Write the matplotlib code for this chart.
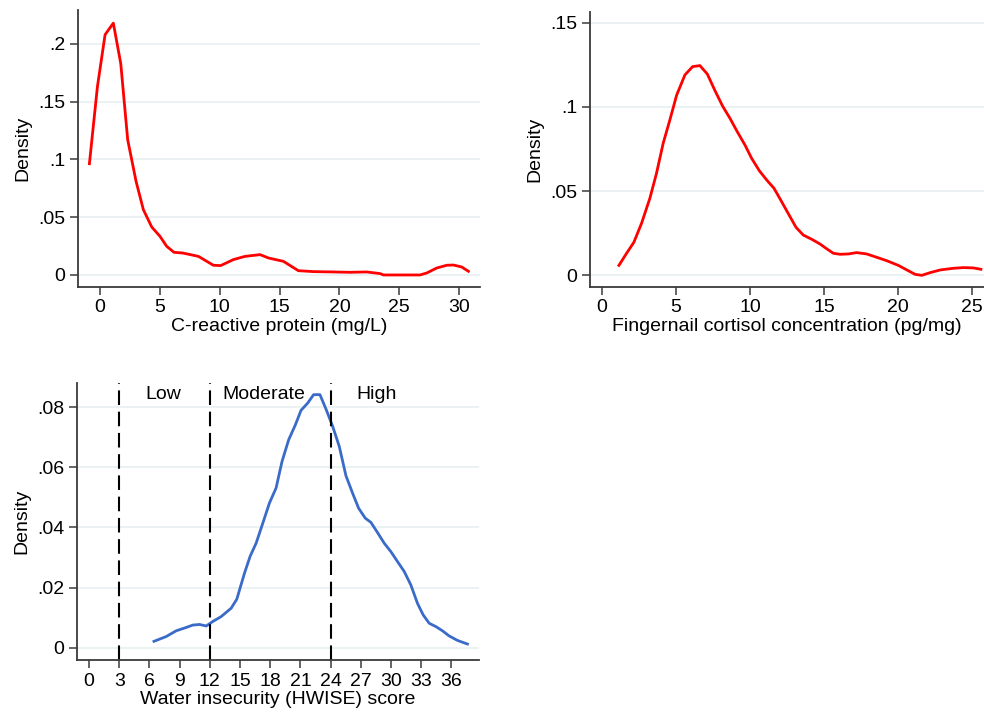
import matplotlib.pyplot as plt

plt.rcParams['font.family'] = ['Liberation Sans', 'DejaVu Sans']

# C-reactive protein density
crp_x = [-0.89, -0.22, 0.42, 1.11, 1.73, 2.31, 3.01, 3.62, 4.32, 5.01, 5.57, 6.18,
         6.91, 8.22, 9.47, 10.08, 11.14, 12.12, 13.37, 14.07, 15.32, 16.57, 17.83,
         19.5, 20.9, 22.28, 23.4, 23.68, 26.74, 27.3, 28.13, 28.97, 29.53, 30.22, 30.78]
crp_y = [0.0963, 0.163, 0.208, 0.218, 0.183, 0.117, 0.081, 0.0565, 0.0415, 0.0334,
         0.0248, 0.0196, 0.019, 0.0161, 0.0084, 0.0081, 0.0133, 0.0161, 0.0176, 0.0147,
         0.0118, 0.0037, 0.0029, 0.0026, 0.0023, 0.0026, 0.0012, 0.0, 0.0, 0.0017,
         0.006, 0.0084, 0.0086, 0.0069, 0.0032]

# fingernail cortisol density
cort_x = [1.15, 1.67, 2.16, 2.68, 3.24, 3.69, 4.14, 4.59, 5.05, 5.61, 6.13, 6.62,
          7.12, 7.64, 8.15, 8.65, 9.14, 9.66, 10.11, 10.63, 11.13, 11.62, 12.14, 12.64,
          13.11, 13.6, 14.17, 14.73, 15.14, 15.63, 16.08, 16.64, 17.2, 17.88, 18.56,
          19.23, 20.02, 20.59, 21.15, 21.6, 22.16, 22.84, 23.74, 24.41, 25.09, 25.59]
cort_y = [0.0059, 0.0131, 0.0196, 0.0309, 0.0457, 0.0606, 0.0784, 0.0922, 0.107,
          0.119, 0.1239, 0.1245, 0.1195, 0.1096, 0.1005, 0.0932, 0.0853, 0.0774,
          0.0695, 0.0621, 0.0566, 0.0517, 0.0437, 0.0358, 0.0285, 0.0239, 0.0214,
          0.0186, 0.016, 0.0131, 0.0125, 0.0127, 0.0135, 0.0127, 0.0107, 0.0087,
          0.0059, 0.0032, 0.0006, 0.0, 0.0016, 0.0032, 0.0042, 0.0046, 0.0044, 0.0036]

# HWISE score density
hw_x = [6.45, 7.67, 8.66, 9.65, 10.31, 10.98, 11.64, 12.3, 13.12, 14.12, 14.68,
        15.44, 16.0, 16.6, 17.26, 17.92, 18.58, 19.17, 19.83, 20.5, 21.06, 21.72,
        22.31, 22.94, 23.54, 24.2, 24.86, 25.52, 26.18, 26.78, 27.44, 28.0, 28.66,
        29.32, 29.98, 30.64, 31.31, 31.97, 32.63, 33.19, 33.79, 34.45, 35.11, 35.77,
        36.6, 37.59]
hw_y = [0.0022, 0.0038, 0.0057, 0.0068, 0.0076, 0.0078, 0.0073, 0.0088, 0.0104,
        0.0132, 0.0162, 0.0248, 0.0304, 0.0348, 0.0414, 0.0481, 0.0531, 0.0619,
        0.0691, 0.0741, 0.0789, 0.0813, 0.0841, 0.0841, 0.0793, 0.0736, 0.0669,
        0.0572, 0.0514, 0.0464, 0.0431, 0.0417, 0.0383, 0.0348, 0.032, 0.0287,
        0.0254, 0.0209, 0.0148, 0.011, 0.0082, 0.0071, 0.0057, 0.004, 0.0025, 0.0013]

cutoffs = [3, 12, 24]
cat_labels = ['Low', 'Moderate', 'High']
cat_pos = [7.4, 17.4, 28.6]

crp_ticks = [0, 5, 10, 15, 20, 25, 30]
cort_ticks = [0, 5, 10, 15, 20, 25]
hw_ticks = list(range(0, 37, 3))

SPINE = '#3a3a3a'
GRID = '#e8f0f2'
FS = 14


def style(ax, yticks, ylabels):
    for s in ['top', 'right']:
        ax.spines[s].set_visible(False)
    for s in ['left', 'bottom']:
        ax.spines[s].set_color(SPINE)
        ax.spines[s].set_linewidth(1.3)
    ax.set_yticks(yticks)
    ax.set_yticklabels(ylabels)
    ax.tick_params(length=6, width=1.1, color=SPINE, labelsize=FS, pad=3)
    for y in yticks:
        ax.axhline(y, color=GRID, lw=1.2, zorder=0)
    ax.set_ylabel('Density', fontsize=FS, labelpad=5)


fig = plt.figure(figsize=(9.84, 7.16), dpi=100)

ax1 = fig.add_axes([0.0793, 0.5992, 0.4085, 0.3869])
ax1.plot(crp_x, crp_y, color='#ff0000', lw=2)
ax1.set_xlim(-1.84, 31.75)
ax1.set_ylim(-0.0104, 0.2294)
ax1.set_xticks(crp_ticks)
style(ax1, [0, 0.05, 0.1, 0.15, 0.2], ['0', '.05', '.1', '.15', '.2'])
ax1.set_xlabel('C-reactive protein (mg/L)', fontsize=FS, labelpad=1)

ax2 = fig.add_axes([0.5996, 0.5992, 0.4004, 0.384])
ax2.plot(cort_x, cort_y, color='#ff0000', lw=2)
ax2.set_xlim(-0.8, 25.8)
ax2.set_ylim(-0.0069, 0.1563)
ax2.set_xticks(cort_ticks)
style(ax2, [0, 0.05, 0.1, 0.15], ['0', '.05', '.1', '.15'])
ax2.set_xlabel('Fingernail cortisol concentration (pg/mg)', fontsize=FS, labelpad=1)

ax3 = fig.add_axes([0.0783, 0.0782, 0.4085, 0.387])
ax3.plot(hw_x, hw_y, color='#3a6bc8', lw=2)
ax3.set_xlim(-1.19, 38.74)
ax3.set_ylim(-0.004, 0.088)
ax3.set_xticks(hw_ticks)
style(ax3, [0, 0.02, 0.04, 0.06, 0.08], ['0', '.02', '.04', '.06', '.08'])
ax3.set_xlabel('Water insecurity (HWISE) score', fontsize=FS, labelpad=1)
for c in cutoffs:
    ax3.axvline(c, color='black', lw=1.5, ls=(0, (7, 3.2)))
for lab, xp in zip(cat_labels, cat_pos):
    ax3.text(xp, 0.0843, lab, ha='center', va='center', fontsize=FS)

fig.savefig('out.png', dpi=100)
